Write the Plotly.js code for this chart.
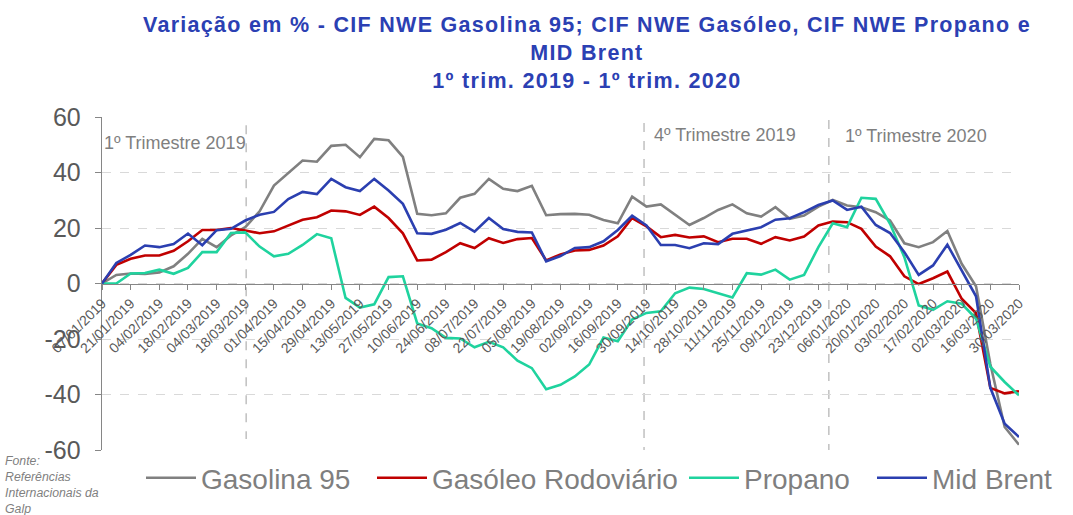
<!DOCTYPE html>
<html>
<head>
<meta charset="utf-8">
<script src="https://cdn.plot.ly/plotly-3.0.1.min.js"></script>
<style>
html,body{margin:0;padding:0;background:#fff;}
#chart{width:1073px;height:515px;}
#chart .gtitle{letter-spacing:1.3px;}
</style>
</head>
<body>
<div id="chart"></div>
<script>
// Weekly dates (categories)
const dates = [
  "07/01/2019","14/01/2019","21/01/2019","28/01/2019","04/02/2019","11/02/2019","18/02/2019","25/02/2019",
  "04/03/2019","11/03/2019","18/03/2019","25/03/2019","01/04/2019","08/04/2019","15/04/2019","22/04/2019",
  "29/04/2019","06/05/2019","13/05/2019","20/05/2019","27/05/2019","03/06/2019","10/06/2019","17/06/2019",
  "24/06/2019","01/07/2019","08/07/2019","15/07/2019","22/07/2019","29/07/2019","05/08/2019","12/08/2019",
  "19/08/2019","26/08/2019","02/09/2019","09/09/2019","16/09/2019","23/09/2019","30/09/2019","07/10/2019",
  "14/10/2019","21/10/2019","28/10/2019","04/11/2019","11/11/2019","18/11/2019","25/11/2019","02/12/2019",
  "09/12/2019","16/12/2019","23/12/2019","30/12/2019","06/01/2020","13/01/2020","20/01/2020","27/01/2020",
  "03/02/2020","10/02/2020","17/02/2020","24/02/2020","02/03/2020","09/03/2020","16/03/2020","23/03/2020",
  "30/03/2020"
];

// Tick labels (every two weeks)
const tickLabels = [
  "07/01/2019","21/01/2019","04/02/2019","18/02/2019","04/03/2019","18/03/2019","01/04/2019","15/04/2019",
  "29/04/2019","13/05/2019","27/05/2019","10/06/2019","24/06/2019","08/07/2019","22/07/2019","05/08/2019",
  "19/08/2019","02/09/2019","16/09/2019","30/09/2019","14/10/2019","28/10/2019","11/11/2019","25/11/2019",
  "09/12/2019","23/12/2019","06/01/2020","20/01/2020","03/02/2020","17/02/2020","02/03/2020","16/03/2020",
  "30/03/2020"
];

const yTickVals = [-60, -40, -20, 0, 20, 40, 60];
const yTickText = ["-60", "-40", "-20", "0", "20", "40", "60"];

const gasolina95 = [
  0, 3.1, 3.6, 3.4, 4.0, 6.2, 10.7, 16.1, 13.1, 17.3, 20.3, 26.0, 35.3, 39.8, 44.3, 43.9,
  49.6, 50.0, 45.5, 52.1, 51.6, 45.6, 25.1, 24.6, 25.3, 30.9, 32.3, 37.7, 34.1, 33.3, 35.2, 24.6,
  25.0, 25.1, 24.8, 22.9, 21.7, 31.3, 27.7, 28.5, 24.8, 21.1, 23.6, 26.5, 28.5, 25.3, 24.1, 27.5,
  23.3, 24.5, 27.7, 30.1, 28.1, 27.5, 25.7, 22.7, 14.5, 13.1, 14.9, 18.9, 7.1, -1.0, -29.0, -51.7,
  -58.1
];

const gasoleoRodoviario = [
  0, 6.7, 8.9, 10.1, 10.1, 11.8, 15.2, 19.3, 19.3, 20.0, 19.1, 18.1, 18.8, 20.8, 23.0, 23.9,
  26.3, 26.0, 24.7, 27.7, 23.6, 18.1, 8.3, 8.6, 11.3, 14.5, 12.8, 16.3, 14.6, 16.0, 16.4, 8.3,
  10.5, 11.9, 12.1, 13.7, 17.0, 23.6, 20.6, 16.7, 17.5, 16.6, 17.0, 14.9, 16.1, 16.1, 14.3, 16.7,
  15.5, 16.9, 20.9, 22.3, 22.1, 19.7, 13.3, 9.8, 2.6, -0.2, 1.9, 4.3, -5.5, -10.7, -37.6, -39.6,
  -38.8
];

const propano = [
  0, 0, 3.6, 3.8, 5.0, 3.5, 5.6, 11.3, 11.3, 18.2, 18.4, 13.3, 9.8, 10.7, 13.9, 17.8,
  16.3, -5.2, -8.7, -7.5, 2.3, 2.6, -14.4, -16.1, -19.6, -19.8, -23.0, -21.0, -23.0, -27.8, -30.5, -38.1,
  -36.5, -33.5, -29.2, -19.5, -20.8, -13.0, -10.6, -10.0, -3.5, -1.5, -2.0, -3.5, -5.0, 3.7, 3.2, 5.0,
  1.4, 3.1, 13.1, 21.7, 20.3, 30.9, 30.5, 21.5, 9.5, -7.9, -9.5, -6.4, -7.3, -12.6, -30.0, -35.5,
  -40.3
];

const midBrent = [
  0, 7.4, 10.3, 13.7, 13.1, 14.2, 18.0, 13.8, 19.2, 19.7, 22.7, 24.8, 25.8, 30.4, 33.0, 32.2,
  37.7, 34.7, 33.3, 37.7, 33.5, 28.7, 18.1, 17.9, 19.4, 21.8, 18.7, 23.6, 19.6, 18.6, 18.4, 8.0,
  9.9, 12.8, 13.1, 15.2, 19.3, 24.4, 20.9, 13.9, 13.9, 12.7, 14.5, 14.2, 17.9, 19.1, 20.3, 23.0,
  23.5, 25.7, 28.3, 29.9, 26.5, 27.7, 21.1, 18.2, 11.3, 3.1, 6.5, 14.0, 4.7, -4.6, -37.6, -50.5,
  -55.3
];

const seriesNames = ["Gasolina 95", "Gasóleo Rodoviário", "Propano", "Mid Brent"];
const seriesValues = [gasolina95, gasoleoRodoviario, propano, midBrent];
const seriesColors = ["#808080", "#c00000", "#1fd39e", "#2b3fb0"];

const quarterLabels = ["1º Trimestre 2019", "4º Trimestre 2019", "1º Trimestre 2020"];

const FONT = '"Liberation Sans", Arial, sans-serif';
const legendIds = ['legend', 'legend2', 'legend3', 'legend4'];
const legendLeft = [147, 378, 690, 878];   // px, left edge of each legend entry

const traces = seriesNames.map((name, k) => ({
  type: 'scatter',
  mode: 'lines',
  name: name,
  x: dates,
  y: seriesValues[k],
  legend: legendIds[k],
  line: {color: seriesColors[k], width: 2.6},
  hoverinfo: 'x+y+name'
}));

const vline = (x, y0, y1) => ({
  type: 'line', xref: 'x', yref: 'y', x0: x, x1: x, y0: y0, y1: y1,
  line: {color: '#b0b0b0', width: 1.2, dash: 'dash'}, layer: 'below'
});

const layout = {
  width: 1073, height: 515,
  margin: {l: 102, r: 54, t: 117, b: 65},
  paper_bgcolor: '#ffffff', plot_bgcolor: '#ffffff',
  font: {family: FONT, color: '#595959'},
  title: {
    text: '<b>Variação em % - CIF NWE Gasolina 95; CIF NWE Gasóleo, CIF NWE Propano e<br>MID Brent<br>1º trim. 2019 - 1º trim. 2020</b>',
    font: {family: FONT, size: 21.5, color: '#2b40b3'},
    xref: 'container', x: 0.547, xanchor: 'center',
    yref: 'container', y: 0.937, yanchor: 'top'
  },
  showlegend: true,
  xaxis: {
    type: 'category',
    range: [0, dates.length - 1],
    anchor: 'free',
    position: 0.5,
    tickmode: 'array',
    tickvals: tickLabels,
    ticktext: tickLabels,
    tickangle: -45,
    ticks: 'outside', ticklen: 5, tickcolor: '#868686',
    tickfont: {family: FONT, size: 14, color: '#595959'},
    showline: true, linecolor: '#868686', linewidth: 1.3,
    showgrid: false, zeroline: false,
    fixedrange: true
  },
  yaxis: {
    range: [-60, 60],
    tickmode: 'array',
    tickvals: yTickVals,
    ticktext: yTickText,
    ticks: 'outside', ticklen: 6, tickcolor: '#868686',
    ticklabelstandoff: 9,
    tickfont: {family: FONT, size: 25, color: '#595959'},
    showline: true, linecolor: '#868686', linewidth: 1.3,
    showgrid: true, gridcolor: '#d9d9d9', griddash: 'dash', gridwidth: 1,
    zeroline: false,
    fixedrange: true
  },
  shapes: [
    vline(10.06, 63.5, -56),
    vline(37.83, 57.8, -61.3),
    vline(50.73, 58.9, -61)
  ],
  annotations: [
    {text: quarterLabels[0], xref: 'paper', yref: 'paper', x: 0.0, y: 0.922, xanchor: 'left', yanchor: 'middle',
     showarrow: false, font: {family: FONT, size: 18, color: '#7f7f7f'}},
    {text: quarterLabels[1], xref: 'paper', yref: 'paper', x: 0.5998, y: 0.946, xanchor: 'left', yanchor: 'middle',
     showarrow: false, font: {family: FONT, size: 18, color: '#7f7f7f'}},
    {text: quarterLabels[2], xref: 'paper', yref: 'paper', x: 0.808, y: 0.943, xanchor: 'left', yanchor: 'middle',
     showarrow: false, font: {family: FONT, size: 18, color: '#7f7f7f'}},
    {text: '<i>Fonte:<br>Referências<br>Internacionais da<br>Galp</i>', xref: 'paper', yref: 'paper',
     x: (3 - 102) / 917, y: (450 - 452) / 333, xanchor: 'left', yanchor: 'top', align: 'left',
     showarrow: false, font: {family: FONT, size: 12.3, color: '#7f7f7f'}}
  ]
};

legendIds.forEach((id, k) => {
  layout[id] = {
    orientation: 'h',
    xref: 'container', x: (legendLeft[k] - 6) / 1073, xanchor: 'left',
    yref: 'container', y: 1 - 478 / 515, yanchor: 'middle',
    font: {family: FONT, size: 28, color: '#7f7f7f'},
    bgcolor: 'rgba(0,0,0,0)',
    itemwidth: 50
  };
});

Plotly.newPlot('chart', traces, layout, {displayModeBar: false, staticPlot: true});
</script>
</body>
</html>
